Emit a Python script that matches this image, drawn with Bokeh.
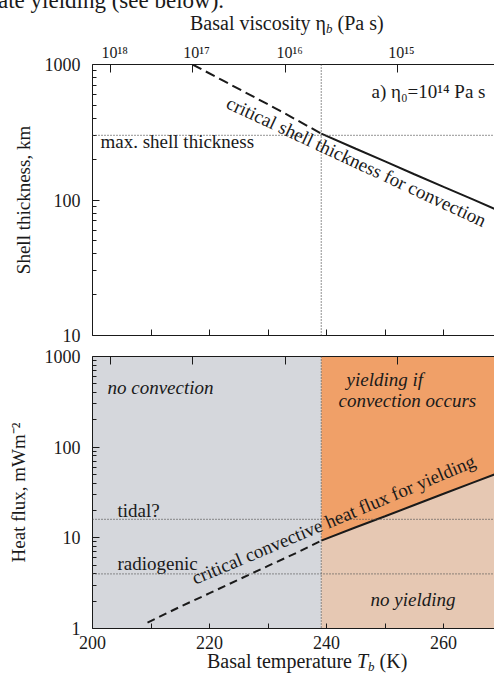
from math import pi
from bokeh.plotting import figure
from bokeh.layouts import column
from bokeh.models import (Label, Span, Range1d, FixedTicker, LinearAxis, Div,
                          CustomJSTickFormatter, PrintfTickFormatter)
from bokeh.embed import file_html
from bokeh.resources import INLINE

FONT = "Liberation Serif"
INK = "#1a1a1a"
DOT = "#555555"

# ---------------- data ----------------
T_min, T_max = 200, 268.7            # basal temperature range, K
T_yield_onset = 239.1                # vertical dotted line
temp_major_ticks = [200, 220, 240, 260]
temp_minor_ticks = [210, 230, 250]
visc_tick_T = [203.1, 217.1, 233.0, 252.1]     # temperature of viscosity ticks
visc_tick_labels = ["10¹⁸", "10¹⁷", "10¹⁶", "10¹⁵"]

thick_min, thick_max = 10, 1000
max_shell_thickness = 300
shell_T_dashed = [217.1, 222, 227, 232, 239.1]
shell_D_dashed = [1000, 773, 594, 457, 309]
shell_T_solid = [239.1, 245, 250, 255, 260, 265, 268.7]
shell_D_solid = [309, 239, 193, 155, 125, 101, 86]

flux_min, flux_max = 1, 1000
tidal_flux = 16
radiogenic_flux = 4
flux_T_dashed = [209.4, 215, 220, 225, 230, 235, 239.1]
flux_F_dashed = [1.16, 1.74, 2.45, 3.47, 4.9, 6.9, 9.3]
flux_T_solid = [239.1, 245, 250, 255, 260, 265, 268.7]
flux_F_solid = [9.3, 13.1, 17.3, 23, 30.6, 40.7, 50]

log_major_thick = [10, 100, 1000]
log_major_flux = [1, 10, 100, 1000]

GRAY = "#d5d7dc"
ORANGE = "#f0a068"
TAN = "#e6c8b3"

W = 494
BLANK = CustomJSTickFormatter(code="return ''")


def minor_log(majors):
    return [m * majors[i] for i in range(len(majors) - 1) for m in range(2, 10)]


def style_axis(ax, tick_in=6, minor_in=4, size="18px", standoff=10):
    ax.axis_line_color = INK
    ax.major_tick_line_color = INK
    ax.minor_tick_line_color = INK
    ax.major_tick_in = tick_in
    ax.major_tick_out = 0
    ax.minor_tick_in = minor_in
    ax.minor_tick_out = 0
    ax.major_label_text_font = FONT
    ax.major_label_text_font_size = size
    ax.major_label_text_color = INK
    ax.major_label_standoff = standoff
    ax.axis_label_text_font = FONT
    ax.axis_label_text_font_style = "normal"
    ax.axis_label_text_font_size = "19px"
    ax.axis_label_text_color = INK


def note(p, text, dx, dy, anchor_y, size=19, align="left", baseline="middle",
         angle=0.0, style="normal"):
    p.add_layout(Label(x=T_min, y=anchor_y, x_offset=dx, y_offset=dy,
                       text=text, text_font=FONT, text_font_size=f"{size}px",
                       text_font_style=style, text_align=align, text_baseline=baseline,
                       angle=angle, text_color=INK))


def make_fig(height, y0, y1, top_border, bottom_border):
    p = figure(width=W, height=height, x_range=Range1d(T_min, T_max),
               y_range=Range1d(y0, y1), y_axis_type="log",
               output_backend="svg", toolbar_location=None,
               min_border_left=92, min_border_right=0,
               min_border_top=top_border, min_border_bottom=bottom_border)
    p.grid.visible = False
    p.outline_line_color = None
    p.background_fill_color = "white"
    p.border_fill_color = "white"
    return p


TXT = f"font-family:'{FONT}'; color:{INK}; white-space:nowrap; position:absolute;"

header = Div(width=W, height=40, margin=0, text=(
    f'<div style="{TXT} left:-2px; top:-10px; font-size:23px; line-height:22px;">'
    'ate yielding (see below).</div>'
    f'<div style="{TXT} left:190px; top:13px; font-size:20px; line-height:20px;">'
    'Basal viscosity η<sub style="font-size:13px; font-style:italic; '
    'vertical-align:-3px; line-height:0;">b</sub> (Pa s)</div>'))

footer = Div(width=W, height=18, margin=0, text=(
    f'<div style="{TXT} left:207px; top:-3px; font-size:20px; line-height:18px;">'
    'Basal temperature <i>T</i><sub style="font-size:13px; font-style:italic; '
    'vertical-align:-3px; line-height:0;">b</sub> (K)</div>'))

# ================= top panel: shell thickness =================
top = make_fig(305, thick_min, thick_max, 23, 10)

top.yaxis.ticker = FixedTicker(ticks=log_major_thick, minor_ticks=minor_log(log_major_thick))
top.yaxis.formatter = PrintfTickFormatter(format="%d")
style_axis(top.yaxis[0], tick_in=7, minor_in=4, standoff=12)
top.yaxis.axis_label = "Shell thickness, km"
top.yaxis.axis_label_standoff = 8

top.xaxis.ticker = FixedTicker(ticks=temp_major_ticks + temp_minor_ticks, minor_ticks=[])
top.xaxis.formatter = BLANK
style_axis(top.xaxis[0], tick_in=6, size="1px", standoff=0)

visc_axis_top = LinearAxis(ticker=FixedTicker(ticks=visc_tick_T, minor_ticks=[]),
                           major_label_overrides={T: "\u00a0\u00a0" + s for T, s in
                                                  zip(visc_tick_T, visc_tick_labels)})
style_axis(visc_axis_top, tick_in=8, size="16px", standoff=4)
top.add_layout(visc_axis_top, "above")

top.add_layout(Span(location=max_shell_thickness, dimension="width", line_color=DOT,
                    line_dash="1 2", line_width=1.3))
top.add_layout(Span(location=T_yield_onset, dimension="height", line_color=DOT,
                    line_dash="1 2", line_width=1.3))

top.line(shell_T_dashed, shell_D_dashed, line_color=INK, line_width=2, line_dash="10 5")
top.line(shell_T_solid, shell_D_solid, line_color=INK, line_width=2)

note(top, "max. shell thickness", 8, -77, thick_max)
note(top, "a) η₀=10¹⁴ Pa s", 393, -27, thick_max, align="right")
note(top, "critical shell thickness for convection", 264, -97, thick_max,
     align="center", angle=-0.435)

# ================= bottom panel: heat flux =================
bot = make_fig(310, flux_min, flux_max, 11, 27)

bot.quad(left=T_min, right=T_yield_onset, bottom=flux_min, top=flux_max,
         fill_color=GRAY, line_color=None)
bot.varea(x=flux_T_solid, y1=flux_F_solid, y2=[flux_max] * len(flux_T_solid),
          fill_color=ORANGE)
bot.varea(x=flux_T_solid, y1=[flux_min] * len(flux_T_solid), y2=flux_F_solid,
          fill_color=TAN)

bot.yaxis.ticker = FixedTicker(ticks=log_major_flux, minor_ticks=minor_log(log_major_flux))
bot.yaxis.formatter = PrintfTickFormatter(format="%d")
style_axis(bot.yaxis[0], tick_in=7, minor_in=4, standoff=12)
bot.yaxis.axis_label = "Heat flux, mWm⁻²"
bot.yaxis.axis_label_standoff = 13

bot.xaxis.ticker = FixedTicker(ticks=temp_major_ticks, minor_ticks=temp_minor_ticks)
bot.xaxis.formatter = PrintfTickFormatter(format="%d")
style_axis(bot.xaxis[0], tick_in=5, minor_in=5, standoff=7)

visc_axis_bot = LinearAxis(ticker=FixedTicker(ticks=visc_tick_T, minor_ticks=[]), formatter=BLANK)
style_axis(visc_axis_bot, tick_in=8, size="1px", standoff=0)
bot.add_layout(visc_axis_bot, "above")

for level in (tidal_flux, radiogenic_flux):
    bot.add_layout(Span(location=level, dimension="width", line_color=DOT,
                        line_dash="1 2", line_width=1.3))
bot.add_layout(Span(location=T_yield_onset, dimension="height", line_color=DOT,
                    line_dash="1 2", line_width=1.3))

bot.line(flux_T_dashed, flux_F_dashed, line_color=INK, line_width=2, line_dash="8 5")
bot.line(flux_T_solid, flux_F_solid, line_color=INK, line_width=2)

note(bot, "no convection", 15, -31, flux_max, style="italic")
note(bot, "yielding if", 254, -23, flux_max, style="italic")
note(bot, "convection occurs", 246, -44, flux_max, style="italic")
note(bot, "tidal?", 25, -154, flux_max)
note(bot, "radiogenic", 25, -207, flux_max)
note(bot, "critical convective heat flux for yielding", 241, -163, flux_max,
     align="center", angle=0.399)
note(bot, "no yielding", 278, -243, flux_max, style="italic")

p = column(header, top, bot, footer, spacing=0)
open("out.html", "w").write(file_html(p, INLINE))
